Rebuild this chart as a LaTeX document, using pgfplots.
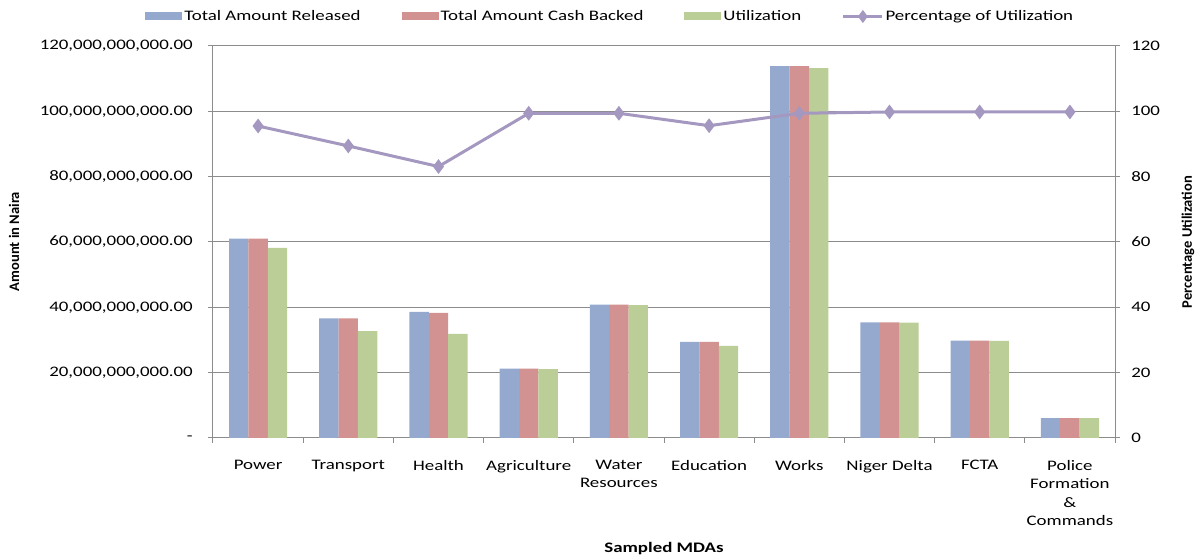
\documentclass[border=0pt]{standalone}
\usepackage{pgfplots}
\pgfplotsset{compat=1.18}
\usepackage{pgfplotstable}
\usepackage{fontspec}
\setmainfont{Carlito}[FakeStretch=1.3]
\newfontfamily\sidelabelfont{Carlito}

\definecolor{released}{RGB}{149,169,207}
\definecolor{cashbacked}{RGB}{210,146,145}
\definecolor{utilized}{RGB}{187,206,151}
\definecolor{pctline}{RGB}{164,152,192}
\definecolor{gridgray}{RGB}{140,140,140}

% Amounts in Naira and percentage of utilization per sampled MDA
\pgfplotstableread{
idx released     cashbacked   utilized     pct
0   61000000000  61000000000  58200000000  95.5
1   36600000000  36600000000  32700000000  89.4
2   38600000000  38300000000  31900000000  83.1
3   21200000000  21200000000  21100000000  99.4
4   40800000000  40800000000  40700000000  99.4
5   29400000000  29400000000  28200000000  95.6
6   113800000000 113800000000 113200000000 99.4
7   35400000000  35400000000  35350000000  99.8
8   29800000000  29800000000  29750000000  99.8
9   6100000000   6100000000   6090000000   99.8
}\mdadata

\newcommand{\basefont}{\fontsize{10.9}{13.9}\selectfont}

\pgfplotsset{
  bothaxes/.style={
    scale only axis, width=676.5pt, height=294pt,
    xmin=-0.5, xmax=9.5,
    axis line style={draw=gridgray, line width=0.75pt},
    tick align=outside,
    major tick length=3.75pt, minor tick length=3.75pt,
    tick style={draw=gridgray, line width=0.75pt},
    tick label style={font=\basefont},
  },
  barlegend/.style={legend image code/.code={\fill[##1] (0pt,-3pt) rectangle (27.75pt,3pt);}},
  linelegend/.style={legend image code/.code={\draw[##1, mark repeat=2, mark phase=2] plot coordinates {(0pt,0pt) (14.6pt,0pt) (29.25pt,0pt)};}},
}

\begin{document}
\begin{tikzpicture}
\begin{axis}[
  bothaxes,
  ymin=0, ymax=120000000000,
  scaled y ticks=false,
  axis x line*=bottom, axis y line*=left,
  ymajorgrids, grid style={draw=gridgray, line width=0.75pt},
  ytick={0,20000000000,40000000000,60000000000,80000000000,100000000000,120000000000},
  yticklabels={{-},{20,000,000,000.00},{40,000,000,000.00},{60,000,000,000.00},{80,000,000,000.00},{100,000,000,000.00},{120,000,000,000.00}},
  yticklabel style={anchor=east, inner sep=0pt, xshift=-11.25pt},
  xtick={0,...,9},
  xticklabels={Power,Transport,Health,Agriculture,{Water\\Resources},Education,Works,Niger Delta,FCTA,{Police\\Formation\\\&\\Commands}},
  xticklabel style={align=center, anchor=north, inner sep=0pt, yshift=-12.5pt},
  major x tick style={draw=none},
  minor xtick={-0.5,0.5,...,9.5},
  xlabel={\bfseries Sampled MDAs},
  xlabel style={at={(axis description cs:0.5,-0.283)}, anchor=center, font=\basefont},
  ylabel={\sidelabelfont\bfseries Amount in Naira},
  ylabel style={at={(axis description cs:-0.2206,0.501)}, anchor=center, font=\basefont},
  legend columns=4,
  legend style={at={(axis description cs:-0.0754,1.0753)}, anchor=west, draw=none, fill=none, inner sep=0pt,
    nodes={inner sep=1.5pt, font=\basefont},
    /tikz/every even column/.append style={column sep=29.25pt}},
]
\addplot[ybar, bar width=0.215, bar shift=-0.215, fill=released, draw=none, barlegend] table[x=idx, y=released]{\mdadata};
\addlegendentry{Total Amount Released}
\addplot[ybar, bar width=0.215, bar shift=0, fill=cashbacked, draw=none, barlegend] table[x=idx, y=cashbacked]{\mdadata};
\addlegendentry{Total Amount Cash Backed}
\addplot[ybar, bar width=0.215, bar shift=0.215, fill=utilized, draw=none, barlegend] table[x=idx, y=utilized]{\mdadata};
\addlegendentry{Utilization}
\addlegendimage{pctline, line width=1.8pt, mark=diamond*, mark size=3.4pt, linelegend}
\addlegendentry{Percentage of Utilization}
\end{axis}

\begin{axis}[
  bothaxes,
  ymin=0, ymax=120,
  axis y line*=right, axis x line=none,
  ytick={0,20,...,120},
  /pgf/number format/assume math mode=true,
  yticklabel style={anchor=west, inner sep=0pt, xshift=8.25pt},
  ylabel={\sidelabelfont\bfseries Percentage Utilization},
  ylabel style={at={(axis description cs:1.081,0.5)}, anchor=center, font=\basefont},
]
\addplot[pctline, line width=2.25pt, mark=diamond*, mark size=3.7pt] table[x=idx, y=pct]{\mdadata};
\end{axis}

\pgfresetboundingbox
\path[use as bounding box] (-159.75pt,-90.75pt) rectangle (741pt,328.5pt);
\end{tikzpicture}
\end{document}
